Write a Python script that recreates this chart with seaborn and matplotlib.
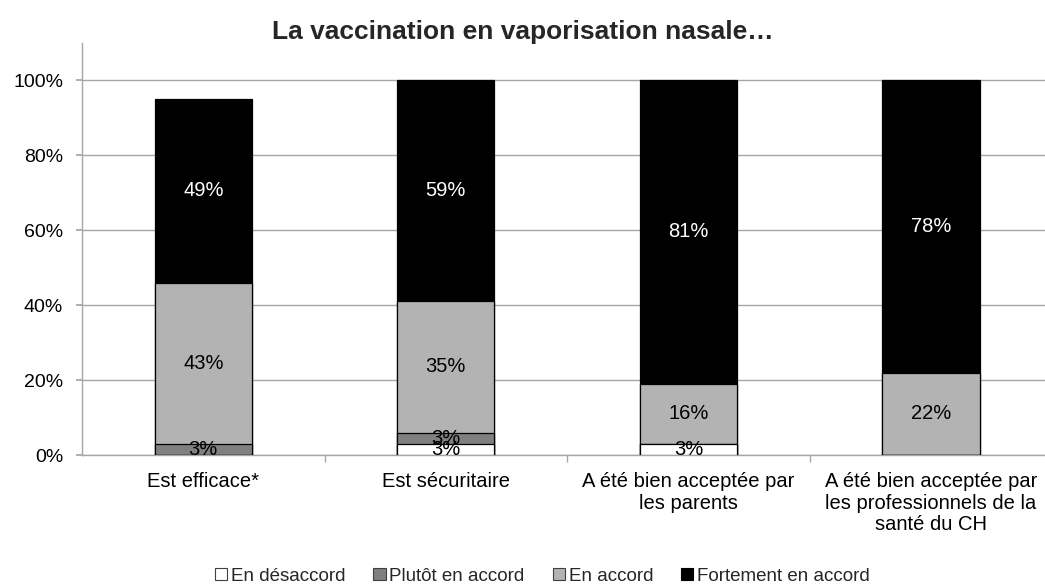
import numpy as np
import pandas as pd
import matplotlib
matplotlib.use("Agg")
import matplotlib.pyplot as plt
from matplotlib.patches import Patch
from matplotlib.ticker import FixedLocator, PercentFormatter
import seaborn as sns

categories = ["Est efficace*", "Est sécuritaire",
              "A été bien acceptée par\nles parents",
              "A été bien acceptée par\nles professionnels de la\nsanté du CH"]
series_names = ["En désaccord", "Plutôt en accord", "En accord", "Fortement en accord"]
en_desaccord = [0, 3, 3, 0]
plutot_accord = [3, 3, 0, 0]
en_accord = [43, 35, 16, 22]
fortement = [49, 59, 81, 78]
colors = ["#ffffff", "#808080", "#b3b3b3", "#000000"]
text_colors = ["black", "black", "black", "white"]
title = "La vaccination en vaporisation nasale…"

sns.set_theme(style="white")
plt.rcParams["font.family"] = ["Liberation Sans", "DejaVu Sans"]

fig = plt.figure(figsize=(10.45, 5.86), dpi=100)
ax = fig.add_axes([82/1045, 1-455/586, 1-82/1045, (455-42.7)/586])

series = [en_desaccord, plutot_accord, en_accord, fortement]
vals = np.array(series, dtype=float)
cum = np.cumsum(vals, axis=0)

# draw from top layer down (cumulative heights)
for i in range(len(series) - 1, -1, -1):
    df = pd.DataFrame({"cat": categories, "val": cum[i]})
    sns.barplot(data=df, x="cat", y="val", color=colors[i], saturation=1,
                width=0.4, edgecolor="black", linewidth=0.9, ax=ax, zorder=3)

# labels
for i in range(len(series)):
    for j in range(len(categories)):
        v = vals[i, j]
        if v <= 0:
            continue
        bottom = cum[i, j] - v
        ax.text(j, bottom + v / 2, f"{int(v)}%", ha="center", va="center",
                fontsize=14.5, color=text_colors[i], zorder=5)

ax.set_ylim(0, 110)
ax.set_xlim(-0.5, 3.47)
ax.yaxis.set_major_locator(FixedLocator([0, 20, 40, 60, 80, 100]))
ax.yaxis.set_major_formatter(PercentFormatter(100, decimals=0))
ax.set_xlabel("")
ax.set_ylabel("")
ax.grid(axis="y", color="#a6a6a6", linewidth=1, zorder=0)
ax.set_axisbelow(True)
for s in ["top", "right"]:
    ax.spines[s].set_visible(False)
for s in ["left", "bottom"]:
    ax.spines[s].set_color("#a6a6a6")
    ax.spines[s].set_linewidth(1)
ax.tick_params(axis="y", which="major", left=True, length=4.5, color="#a6a6a6",
               labelsize=14, pad=9, labelcolor="black")
ax.tick_params(axis="x", which="major", bottom=False, labelsize=14.5, pad=6.5,
               labelcolor="black")
ax.set_xticks([0.5, 1.5, 2.5], minor=True)
ax.tick_params(axis="x", which="minor", bottom=True, length=5, color="#a6a6a6")
for lab in ax.get_xticklabels():
    lab.set_linespacing(1.15)
    lab.set_va("top")

fig.text(0.5, 0.945, title, ha="center", va="center", fontsize=19,
         fontweight="bold")

handles = [Patch(facecolor=c, edgecolor="#404040" if c != "#000000" else "black",
                 linewidth=0.8) for c in colors]
fig.legend(handles, series_names, loc="center", bbox_to_anchor=(0.519, 0.017),
           ncol=4, frameon=False, fontsize=13.5, handlelength=0.65,
           handleheight=0.65, handletextpad=0.2, columnspacing=1.5,
           borderaxespad=0)

fig.savefig("out.png", dpi=100)
